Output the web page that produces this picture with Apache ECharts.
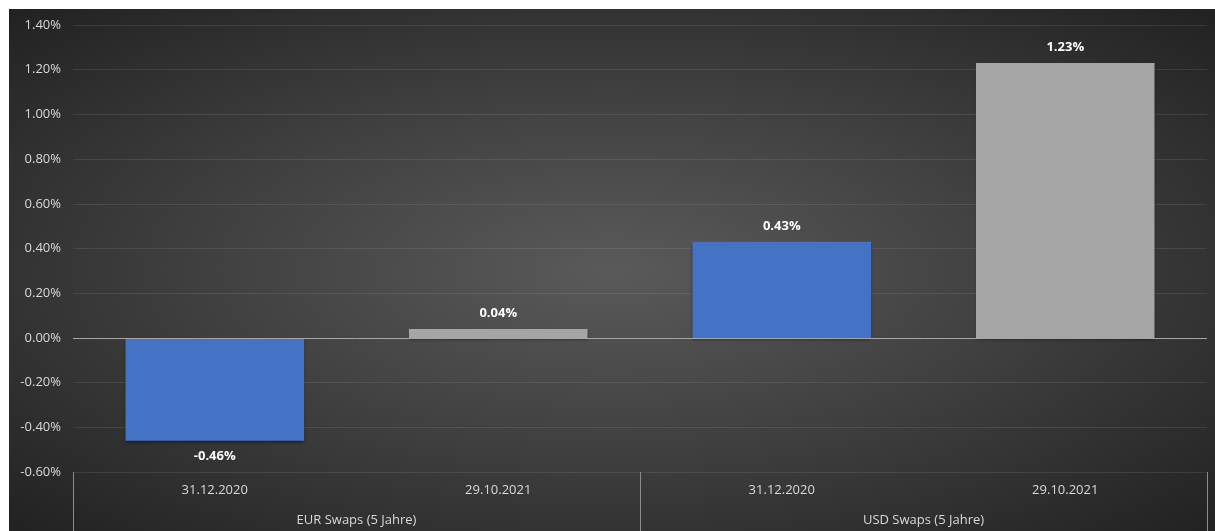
<!DOCTYPE html>
<html>
<head>
<meta charset="utf-8">
<script src="https://cdn.jsdelivr.net/npm/echarts@6/dist/echarts.min.js"></script>
<style>
html,body{margin:0;padding:0;background:#ffffff;}
#chart{position:absolute;left:9px;top:9px;width:1206px;height:522px;}
</style>
</head>
<body>
<div id="chart"></div>
<script>
const dates = ['31.12.2020', '29.10.2021', '31.12.2020', '29.10.2021'];
const groups = ['EUR Swaps (5 Jahre)', 'USD Swaps (5 Jahre)'];
const values = [-0.46, 0.04, 0.43, 1.23];
const barColors = ['#4472C4', '#A5A5A5', '#4472C4', '#A5A5A5'];
const yMin = -0.6, yMax = 1.4, yStep = 0.2;

const W = 1206, H = 522;
const chart = echarts.init(document.getElementById('chart'), null, {renderer: 'canvas'});
const font = '"Open Sans", "DejaVu Sans", sans-serif';

chart.setOption({
  backgroundColor: '#2a2a2a',
  animation: false,
  graphic: [{
    type: 'rect',
    z: -10,
    silent: true,
    shape: {x: 0, y: 0, width: W, height: W},
    scaleY: H / W,
    style: {
      fill: {
        type: 'radial', x: 0.5, y: 0.5, r: 0.75,
        colorStops: [
          {offset: 0, color: '#5a5a5a'},
          {offset: 0.45, color: '#404040'},
          {offset: 1, color: '#1e1e1e'}
        ]
      }
    }
  }],
  grid: {left: 64, right: 8, top: 16, bottom: 59, containLabel: false},
  xAxis: [{
    type: 'category',
    data: dates,
    position: 'bottom',
    axisLine: {show: false, onZero: false},
    axisTick: {show: false},
    axisLabel: {color: '#d9d9d9', fontFamily: font, fontSize: 13, margin: 12},
    splitLine: {show: false}
  }, {
    type: 'category',
    data: groups,
    position: 'bottom',
    axisLine: {show: false, onZero: false},
    axisTick: {show: true, length: 60, lineStyle: {color: '#8c8c8c', width: 1}},
    axisLabel: {color: '#d9d9d9', fontFamily: font, fontSize: 13, margin: 42},
    splitLine: {show: false}
  }],
  yAxis: {
    type: 'value',
    min: yMin, max: yMax, interval: yStep,
    axisLine: {show: false},
    axisTick: {show: false},
    axisLabel: {
      color: '#d9d9d9', fontFamily: font, fontSize: 13, margin: 12,
      formatter: v => v.toFixed(2) + '%'
    },
    splitLine: {lineStyle: {color: 'rgba(255,255,255,0.09)', width: 1}}
  },
  series: [{
    type: 'bar',
    xAxisIndex: 0,
    barWidth: '63%',
    data: values.map((v, i) => ({
      value: v,
      itemStyle: {color: barColors[i]},
      label: {position: v < 0 ? 'bottom' : 'top'}
    })),
    itemStyle: {shadowBlur: 3, shadowOffsetY: 2, shadowColor: 'rgba(0,0,0,0.45)'},
    label: {
      show: true, color: '#ffffff', fontWeight: 'bold', fontFamily: font, fontSize: 13,
      distance: 9,
      formatter: p => p.value.toFixed(2) + '%'
    },
    markLine: {
      silent: true, symbol: 'none', label: {show: false},
      lineStyle: {color: '#a6a6a6', width: 1, type: 'solid'},
      data: [{yAxis: 0}]
    }
  }]
});
</script>
</body>
</html>
